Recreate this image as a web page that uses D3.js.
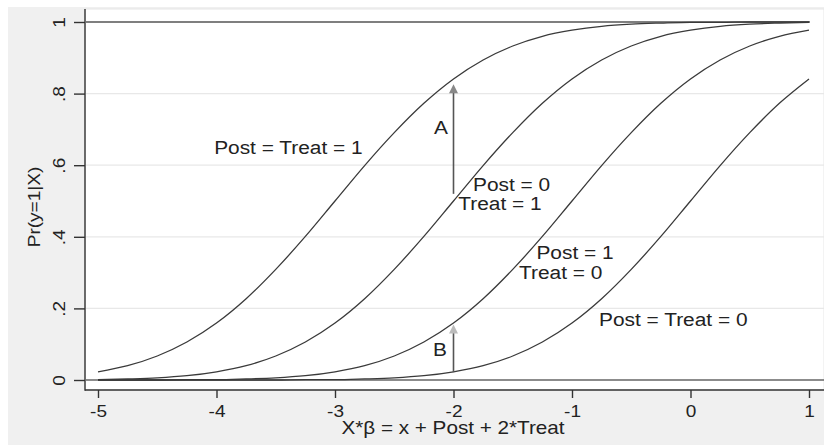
<!DOCTYPE html>
<html>
<head>
<meta charset="utf-8">
<script src="https://cdn.jsdelivr.net/npm/d3@7"></script>
<style>
  body { margin: 0; background: #fff; }
  svg { display: block; }
  text { font-family: 'Liberation Sans', Arial, sans-serif; fill: #222; }
</style>
</head>
<body>
<div class="main"></div>
<script>
const w = 824, h = 446;

// x grid of the index X*b
const xs = [-5, -4.75, -4.5, -4.25, -4, -3.75, -3.5, -3.25, -3, -2.75, -2.5, -2.25, -2,
    -1.75, -1.5, -1.25, -1, -0.75, -0.5, -0.25, 0, 0.25, 0.5, 0.75, 1];

// Pr(y=1|X)
const postTreat1 = [0.023, 0.040, 0.067, 0.106, 0.159, 0.227, 0.309, 0.401, 0.5, 0.599, 0.691, 0.773, 0.841,
    0.894, 0.933, 0.960, 0.977, 0.988, 0.994, 0.997, 0.999, 0.999, 1, 1, 1];
const post0Treat1 = [0.001, 0.003, 0.006, 0.012, 0.023, 0.040, 0.067, 0.106, 0.159, 0.227, 0.309, 0.401, 0.5,
    0.599, 0.691, 0.773, 0.841, 0.894, 0.933, 0.960, 0.977, 0.988, 0.994, 0.997, 0.999];
const post1Treat0 = [0, 0, 0, 0.001, 0.001, 0.003, 0.006, 0.012, 0.023, 0.040, 0.067, 0.106, 0.159,
    0.227, 0.309, 0.401, 0.5, 0.599, 0.691, 0.773, 0.841, 0.894, 0.933, 0.960, 0.977];
const postTreat0 = [0, 0, 0, 0, 0, 0, 0, 0.001, 0.001, 0.003, 0.006, 0.012, 0.023,
    0.040, 0.067, 0.106, 0.159, 0.227, 0.309, 0.401, 0.5, 0.599, 0.691, 0.773, 0.841];

const xTicks = [-5, -4, -3, -2, -1, 0, 1];
const yTicks = [0, 0.2, 0.4, 0.6, 0.8, 1];
const yTickLabels = ['0', '.2', '.4', '.6', '.8', '1'];

// text annotations in data units
const labels = [
    { text: 'Post = Treat = 1', x: -4.02, y: 0.65 },
    { text: 'Post = 0', x: -1.835, y: 0.547 },
    { text: 'Treat = 1', x: -1.96, y: 0.492 },
    { text: 'Post = 1', x: -1.3, y: 0.355 },
    { text: 'Treat = 0', x: -1.447, y: 0.300 },
    { text: 'Post = Treat = 0', x: -0.772, y: 0.168 },
    { text: 'A', x: -2.165, y: 0.704 },
    { text: 'B', x: -2.173, y: 0.084 }
];
const arrows = [
    { x: -2, from: 0.52, to: 0.826, head: '#888' },
    { x: -2, from: 0.022, to: 0.155, head: '#bbb' }
];

const svg = d3.select('.main')
    .append('svg')
    .attr('width', w)
    .attr('height', h);

// outer grey region and white plot region
svg.append('rect').attr('x', 8).attr('y', 7).attr('width', w - 8).attr('height', 438).attr('fill', '#f0f0f0');
svg.append('rect').attr('x', 85).attr('y', 9).attr('width', w - 85).attr('height', 381)
    .attr('fill', '#fff').attr('stroke', '#e6e6e6').attr('stroke-width', 1);

const x = d3.scaleLinear().domain([-5, 1]).range([98, 809]);
const y = d3.scaleLinear().domain([0, 1]).range([380, 22]);

// grid lines
svg.append('g')
    .selectAll('line')
    .data([0.2, 0.4, 0.6, 0.8])
    .enter()
    .append('line')
    .attr('x1', 86).attr('x2', w)
    .attr('y1', d => y(d)).attr('y2', d => y(d))
    .attr('stroke', '#e8e8e8')
    .attr('stroke-width', 1.2);

// reference lines at 0 and 1
svg.append('line').attr('x1', 86).attr('x2', 810).attr('y1', y(1)).attr('y2', y(1))
    .attr('stroke', '#555').attr('stroke-width', 1.4);
svg.append('line').attr('x1', 86).attr('x2', w).attr('y1', y(0)).attr('y2', y(0))
    .attr('stroke', '#666').attr('stroke-width', 1.4);

const series = [postTreat1, post0Treat1, post1Treat0, postTreat0];
const line = d3.line()
    .x((d, i) => x(xs[i]))
    .y(d => y(d))
    .curve(d3.curveMonotoneX);

svg.append('g')
    .selectAll('path')
    .data(series)
    .enter()
    .append('path')
    .attr('d', line)
    .attr('fill', 'none')
    .attr('stroke', '#3a3a3a')
    .attr('stroke-width', 1.3);

// arrows A and B
arrows.forEach(a => {
    svg.append('line')
        .attr('x1', x(a.x)).attr('x2', x(a.x))
        .attr('y1', y(a.from)).attr('y2', y(a.to) + 6)
        .attr('stroke', '#555').attr('stroke-width', 1.6);
    const tx = x(a.x), ty = y(a.to);
    svg.append('path')
        .attr('d', `M${tx},${ty} L${tx + 4.5},${ty + 9} L${tx - 4.5},${ty + 9} Z`)
        .attr('fill', a.head);
});

// axes
const xAxis = svg.append('g')
    .attr('transform', 'translate(0, 390)')
    .call(d3.axisBottom(x).tickValues(xTicks).tickSize(8).tickFormat(d => d));
xAxis.select('.domain').remove();
xAxis.selectAll('line').attr('stroke', '#333').attr('stroke-width', 1.4);
xAxis.selectAll('text')
    .attr('y', null).attr('dy', null)
    .attr('font-size', 17)
    .attr('fill', '#222')
    .attr('dominant-baseline', 'central')
    .attr('transform', 'translate(0, 21) scale(1.12,1)');

const yAxis = svg.append('g')
    .attr('transform', 'translate(85, 0)')
    .call(d3.axisLeft(y).tickValues(yTicks).tickSize(11).tickFormat((d, i) => yTickLabels[i]));
yAxis.select('.domain').remove();
yAxis.selectAll('line').attr('stroke', '#333').attr('stroke-width', 1.4);
yAxis.selectAll('text')
    .attr('x', null).attr('dy', null)
    .attr('font-size', 17)
    .attr('fill', '#222')
    .attr('text-anchor', 'middle')
    .attr('dominant-baseline', 'central')
    .attr('transform', 'translate(-26, 0) rotate(-90) scale(1.12,1)');

// frame lines
svg.append('line').attr('x1', 85).attr('x2', 85).attr('y1', 9).attr('y2', 390.7)
    .attr('stroke', '#333').attr('stroke-width', 1.4);
svg.append('line').attr('x1', 85).attr('x2', w).attr('y1', 390).attr('y2', 390)
    .attr('stroke', '#333').attr('stroke-width', 1.4);

// axis titles
svg.append('text')
    .attr('transform', 'translate(453, 428) scale(1.15,1)')
    .attr('text-anchor', 'middle')
    .attr('dominant-baseline', 'central')
    .attr('font-size', 18)
    .text('X*β = x + Post + 2*Treat');

svg.append('text')
    .attr('transform', 'translate(34, 207) rotate(-90) scale(1.12,1)')
    .attr('text-anchor', 'middle')
    .attr('dominant-baseline', 'central')
    .attr('font-size', 17)
    .text('Pr(y=1|X)');

// curve labels
svg.append('g')
    .selectAll('text')
    .data(labels)
    .enter()
    .append('text')
    .attr('transform', d => `translate(${x(d.x)}, ${y(d.y)}) scale(1.16,1)`)
    .attr('dominant-baseline', 'central')
    .attr('font-size', 18)
    .text(d => d.text);
</script>
</body>
</html>
